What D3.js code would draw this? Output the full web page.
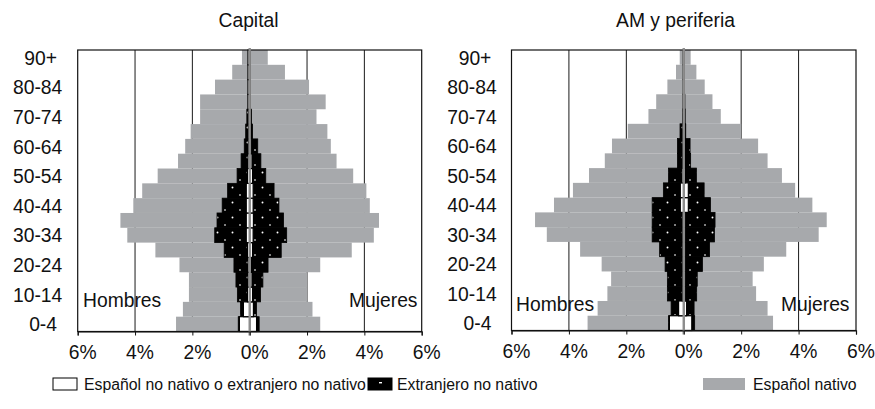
<!DOCTYPE html>
<html>
<head>
<meta charset="utf-8">
<script src="https://cdn.jsdelivr.net/npm/d3@7"></script>
<style>
  body { margin: 0; background: #fff; }
  svg text { font-family: "Liberation Sans", Arial, Helvetica, sans-serif; fill: #111; }
</style>
</head>
<body>
<svg id="chart" width="875" height="409"></svg>
<script>
// Age groups, youngest first (drawn bottom to top)
const ageGroups = ["0-4","5-9","10-14","15-19","20-24","25-29","30-34","35-39","40-44",
  "45-49","50-54","55-59","60-64","65-69","70-74","75-79","80-84","85-89","90+"];
const ageTickLabels = ["0-4","10-14","20-24","30-34","40-44","50-54","60-64","70-74","80-84","90+"];
const pctTicks = [-6, -4, -2, 0, 2, 4, 6];

const panelTitles = ["Capital", "AM y periferia"];
const seriesNames = ["Español no nativo o extranjero no nativo", "Extranjero no nativo", "Español nativo"];
const sideLabels = ["Hombres", "Mujeres"];

// Capital — % of population per age group
const capitalNativeMen     = [2.57,2.33,2.12,2.12,2.45,3.29,4.27,4.51,4.06,3.75,3.21,2.50,2.25,2.06,1.73,1.73,1.21,0.61,0.27];
const capitalNativeWomen   = [2.46,2.19,2.01,2.01,2.46,3.56,4.33,4.51,4.19,4.07,3.61,3.03,2.83,2.71,2.33,2.65,2.07,1.23,0.63];
const capitalForeignMen    = [0.40,0.32,0.43,0.48,0.55,0.89,1.22,1.14,0.96,0.77,0.44,0.30,0.19,0.14,0.10,0.05,0.03,0.02,0.00];
const capitalForeignWomen  = [0.33,0.24,0.38,0.46,0.64,1.10,1.29,1.18,1.02,0.85,0.56,0.39,0.28,0.10,0.06,0.03,0.02,0.00,0.00];
const capitalNonNativeMen  = [0.36,0.22,0.08,0.06,0.06,0.08,0.12,0.12,0.12,0.12,0.08,0.06,0.05,0.05,0.05,0.06,0.06,0.06,0.06];
const capitalNonNativeWomen= [0.24,0.13,0.10,0.08,0.06,0.10,0.12,0.13,0.12,0.12,0.10,0.08,0.05,0.04,0.03,0.02,0.02,0.02,0.02];

// AM y periferia — % of population per age group
const amNativeMen     = [3.35,3.00,2.66,2.53,2.86,3.61,4.77,5.18,4.52,3.86,3.30,2.75,2.50,1.95,1.23,0.96,0.57,0.27,0.14];
const amNativeWomen   = [3.11,2.92,2.52,2.40,2.79,3.57,4.70,4.98,4.48,3.88,3.42,2.92,2.59,2.00,1.29,1.00,0.73,0.44,0.24];
const amForeignMen    = [0.53,0.44,0.57,0.57,0.65,0.84,1.10,1.10,1.10,0.71,0.53,0.22,0.22,0.13,0.04,0.02,0.00,0.00,0.00];
const amForeignWomen  = [0.38,0.36,0.45,0.47,0.65,0.90,1.07,1.09,0.93,0.71,0.44,0.24,0.22,0.07,0.05,0.04,0.00,0.00,0.00];
const amNonNativeMen  = [0.50,0.18,0.05,0.05,0.05,0.05,0.05,0.05,0.12,0.12,0.06,0.04,0.03,0.03,0.02,0.02,0.02,0.02,0.02];
const amNonNativeWomen= [0.28,0.10,0.05,0.05,0.05,0.05,0.05,0.05,0.16,0.16,0.06,0.04,0.03,0.03,0.02,0.02,0.02,0.02,0.02];

const GRAY = "#a7a9ac";
const AXIS_GRAY = "#8d8d8d";
const FONT = 19.3;
const LEGEND_FONT = 15.8;

const svg = d3.select("#chart");

// dotted black fill for "Extranjero no nativo"
const defs = svg.append("defs");
const pat = defs.append("pattern").attr("id", "dots")
  .attr("patternUnits", "userSpaceOnUse").attr("width", 15).attr("height", 15);
pat.append("rect").attr("width", 15).attr("height", 15).attr("fill", "#000");
pat.append("circle").attr("cx", 7.5).attr("cy", 7.5).attr("r", 0.95).attr("fill", "#fff");
[[-1, -0.5], [14, -0.5], [-1, 14.5], [14, 14.5]].forEach(([dx, dy]) =>
  pat.append("rect").attr("x", dx).attr("y", dy).attr("width", 2).attr("height", 1).attr("fill", "#fff"));

const panels = [
  { title: panelTitles[0], left: 77.7, right: 421.7, top: 50, bottom: 331.5, titleX: 248.5, labelRight: 62.3,
    nativeM: capitalNativeMen, nativeW: capitalNativeWomen,
    foreignM: capitalForeignMen, foreignW: capitalForeignWomen,
    nonNativeM: capitalNonNativeMen, nonNativeW: capitalNonNativeWomen,
    sideY: 307, hombresX: 83, mujeresX: 417.5 },
  { title: panelTitles[1], left: 511.5, right: 856, top: 50, bottom: 330.5, titleX: 675.5, labelRight: 496.7,
    nativeM: amNativeMen, nativeW: amNativeWomen,
    foreignM: amForeignMen, foreignW: amForeignWomen,
    nonNativeM: amNonNativeMen, nonNativeW: amNonNativeWomen,
    sideY: 311, hombresX: 516, mujeresX: 849.5 }
];

panels.forEach(p => {
  const g = svg.append("g");
  const x = d3.scaleLinear().domain([-6, 6]).range([p.left, p.right]);
  const y = d3.scaleBand().domain(ageGroups.slice().reverse()).range([p.top, p.bottom]).padding(0);

  // title
  g.append("text").attr("x", p.titleX).attr("y", 27.3).attr("text-anchor", "middle")
    .style("font-size", FONT + "px").text(p.title);

  // vertical gridlines
  g.selectAll("line.grid").data(pctTicks.filter(t => t !== 0 && Math.abs(t) !== 6)).join("line")
    .attr("x1", d => x(d)).attr("x2", d => x(d)).attr("y1", p.top).attr("y2", p.bottom)
    .attr("stroke", "#1a1a1a").attr("stroke-width", 1);

  // bars: native (gray) behind, foreign (dotted black), non-native (white) in front
  const layer = (vals, sign, fill, stroke, sw) => {
    g.append("g").selectAll("rect").data(ageGroups.map((a, i) => ({ a, v: vals[i] }))).join("rect")
      .attr("x", d => sign < 0 ? x(-d.v) : x(0))
      .attr("width", d => Math.abs(x(d.v) - x(0)))
      .attr("y", d => y(d.a))
      .attr("height", y.bandwidth())
      .attr("fill", fill)
      .attr("stroke", stroke)
      .attr("stroke-width", sw);
  };
  layer(p.nativeM, -1, GRAY, "none", 0);
  layer(p.nativeW, 1, GRAY, "none", 0);
  layer(p.foreignM, -1, "url(#dots)", "#000", 0.8);
  layer(p.foreignW, 1, "url(#dots)", "#000", 0.8);
  layer(p.nonNativeM, -1, "#fff", "#000", 1.2);
  layer(p.nonNativeW, 1, "#fff", "#000", 1.2);

  // plot frame
  g.append("rect").attr("x", p.left).attr("y", p.top)
    .attr("width", p.right - p.left).attr("height", p.bottom - p.top)
    .attr("fill", "none").attr("stroke", "#111").attr("stroke-width", 1.2);

  // zero axis line
  g.append("line").attr("x1", x(0)).attr("x2", x(0)).attr("y1", p.top - 2).attr("y2", p.bottom + 4)
    .attr("stroke", AXIS_GRAY).attr("stroke-width", 2.4);

  // bottom axis
  const ax = g.append("g").attr("transform", `translate(0,${p.bottom})`)
    .call(d3.axisBottom(x).tickValues(pctTicks).tickSize(4).tickPadding(12)
      .tickFormat(d => Math.abs(d) + "%"));
  ax.select(".domain").attr("stroke", "#111").attr("stroke-width", 1.2);
  ax.selectAll(".tick line").attr("stroke", "#111");
  ax.selectAll(".tick text").attr("dx", 4.5).attr("dy", "0.6em")
    .style("font-size", FONT + "px").style("font-family", "Liberation Sans, Arial, sans-serif").attr("fill", "#111");

  // age labels
  g.selectAll("text.age").data(ageTickLabels).join("text").attr("class", "age")
    .attr("x", d => p.labelRight - (d.length < 4 ? 5.3 : 0))
    .attr("y", d => y(d) + y.bandwidth() / 2 + 7.2)
    .attr("text-anchor", "end").style("font-size", FONT + "px").text(d => d);

  // sex labels
  g.append("text").attr("x", p.hombresX).attr("y", p.sideY).style("font-size", FONT + "px").text(sideLabels[0]);
  g.append("text").attr("x", p.mujeresX).attr("y", p.sideY).attr("text-anchor", "end")
    .style("font-size", FONT + "px").text(sideLabels[1]);
});

// legend
const legendY = 378;
const legend = svg.append("g");
const items = [
  { name: seriesNames[0], boxX: 53, boxW: 24, textX: 84, fill: "#fff", stroke: "#000" },
  { name: seriesNames[1], boxX: 368, boxW: 24, textX: 397, fill: "#000", stroke: "#000" },
  { name: seriesNames[2], boxX: 703, boxW: 42, textX: 753, fill: GRAY, stroke: "none" }
];
items.forEach(it => {
  legend.append("rect").attr("x", it.boxX).attr("y", legendY).attr("width", it.boxW).attr("height", 12)
    .attr("fill", it.fill).attr("stroke", it.stroke).attr("stroke-width", 1);
  legend.append("text").attr("x", it.textX).attr("y", legendY + 12)
    .style("font-size", LEGEND_FONT + "px").text(it.name);
});
legend.append("rect").attr("x", 368 + 11).attr("y", legendY + 4).attr("width", 3).attr("height", 1.4).attr("fill", "#fff");
</script>
</body>
</html>
